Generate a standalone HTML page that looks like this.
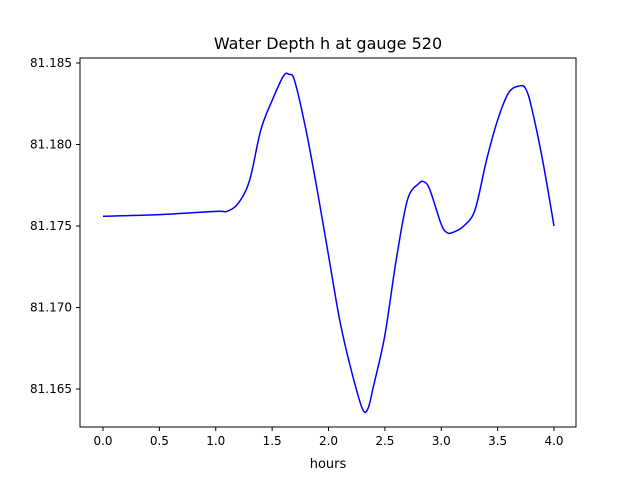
<!DOCTYPE html>
<html><head><meta charset="utf-8"><style>
body{margin:0;background:#fff;font-family:"Liberation Sans","DejaVu Sans",sans-serif;}
</style></head><body>
<svg id="chart" width="640" height="480" xmlns="http://www.w3.org/2000/svg" font-family="DejaVu Sans, Liberation Sans, sans-serif">
<rect width="640" height="480" fill="#fff"/>
<text x="328" y="49" text-anchor="middle" font-size="16">Water Depth h at gauge 520</text>
<g id="axes"></g>
<text x="328" y="468" text-anchor="middle" font-size="13">hours</text>
</svg>
<script>
const times=[0,0.5,1.0,1.1,1.2,1.3,1.4,1.5,1.6,1.65,1.7,1.8,1.9,2.0,2.1,2.2,2.3,2.35,2.4,2.5,2.6,2.7,2.8,2.85,2.9,3.0,3.05,3.1,3.2,3.3,3.4,3.5,3.6,3.7,3.75,3.8,3.9,4.0];
const depths=[81.1756,81.1757,81.1759,81.1759,81.1764,81.1778,81.1809,81.1827,81.1842,81.1843,81.1839,81.1809,81.1772,81.1732,81.1692,81.1662,81.1638,81.1638,81.1652,81.1683,81.1729,81.1766,81.1776,81.1777,81.1772,81.1751,81.1746,81.1746,81.1750,81.1760,81.1790,81.1815,81.1832,81.1836,81.1834,81.1823,81.1790,81.1750];
const xTicks=[0,0.5,1,1.5,2,2.5,3,3.5,4];
const xTickLabels=["0.0","0.5","1.0","1.5","2.0","2.5","3.0","3.5","4.0"];
const yTicks=[81.165,81.170,81.175,81.180,81.185];
const yTickLabels=["81.165","81.170","81.175","81.180","81.185"];
const NS="http://www.w3.org/2000/svg";
const L=80,R=576,T=58,B=427;
const xs=v=>103+v*112.75;
const ys=v=>389-(v-81.165)/0.005*81.5;
const g=document.getElementById('axes');
function mk(tag,at){const e=document.createElementNS(NS,tag);for(const k in at)e.setAttribute(k,at[k]);g.appendChild(e);return e;}
xTicks.forEach((t,i)=>{
 const l=mk('line',{x1:xs(t),x2:xs(t),y1:B,y2:B+4,stroke:'#000'});
 
 
 const tx=mk('text',{x:xs(t),y:B+18,'text-anchor':'middle','font-size':'12'});
 tx.textContent=xTickLabels[i];
 
 
});
yTicks.forEach((t,i)=>{
 const l=mk('line',{x1:L-4,x2:L,y1:ys(t),y2:ys(t),stroke:'#000'});
 
 
 const tx=mk('text',{x:L-8,y:ys(t)+4,'text-anchor':'end','font-size':'12'});
 tx.textContent=yTickLabels[i];
 
 
});
// Catmull-Rom smooth path
const pts=times.map((t,i)=>[xs(t),ys(depths[i])]);
let d='M'+pts[0][0]+','+pts[0][1];
for(let i=0;i<pts.length-1;i++){
 const p0=pts[Math.max(0,i-1)],p1=pts[i],p2=pts[i+1],p3=pts[Math.min(pts.length-1,i+2)];
 const c1=[p1[0]+(p2[0]-p0[0])/6,p1[1]+(p2[1]-p0[1])/6];
 const c2=[p2[0]-(p3[0]-p1[0])/6,p2[1]-(p3[1]-p1[1])/6];
 d+=` C${c1[0]},${c1[1]} ${c2[0]},${c2[1]} ${p2[0]},${p2[1]}`;
}
const line=mk('path',{d:d,fill:'none',stroke:'#0000ff','stroke-width':'1.5'});


const frame=mk('rect',{x:L,y:T,width:R-L,height:B-T,fill:'none',stroke:'#000','stroke-width':'1'});


</script>
</body></html>
